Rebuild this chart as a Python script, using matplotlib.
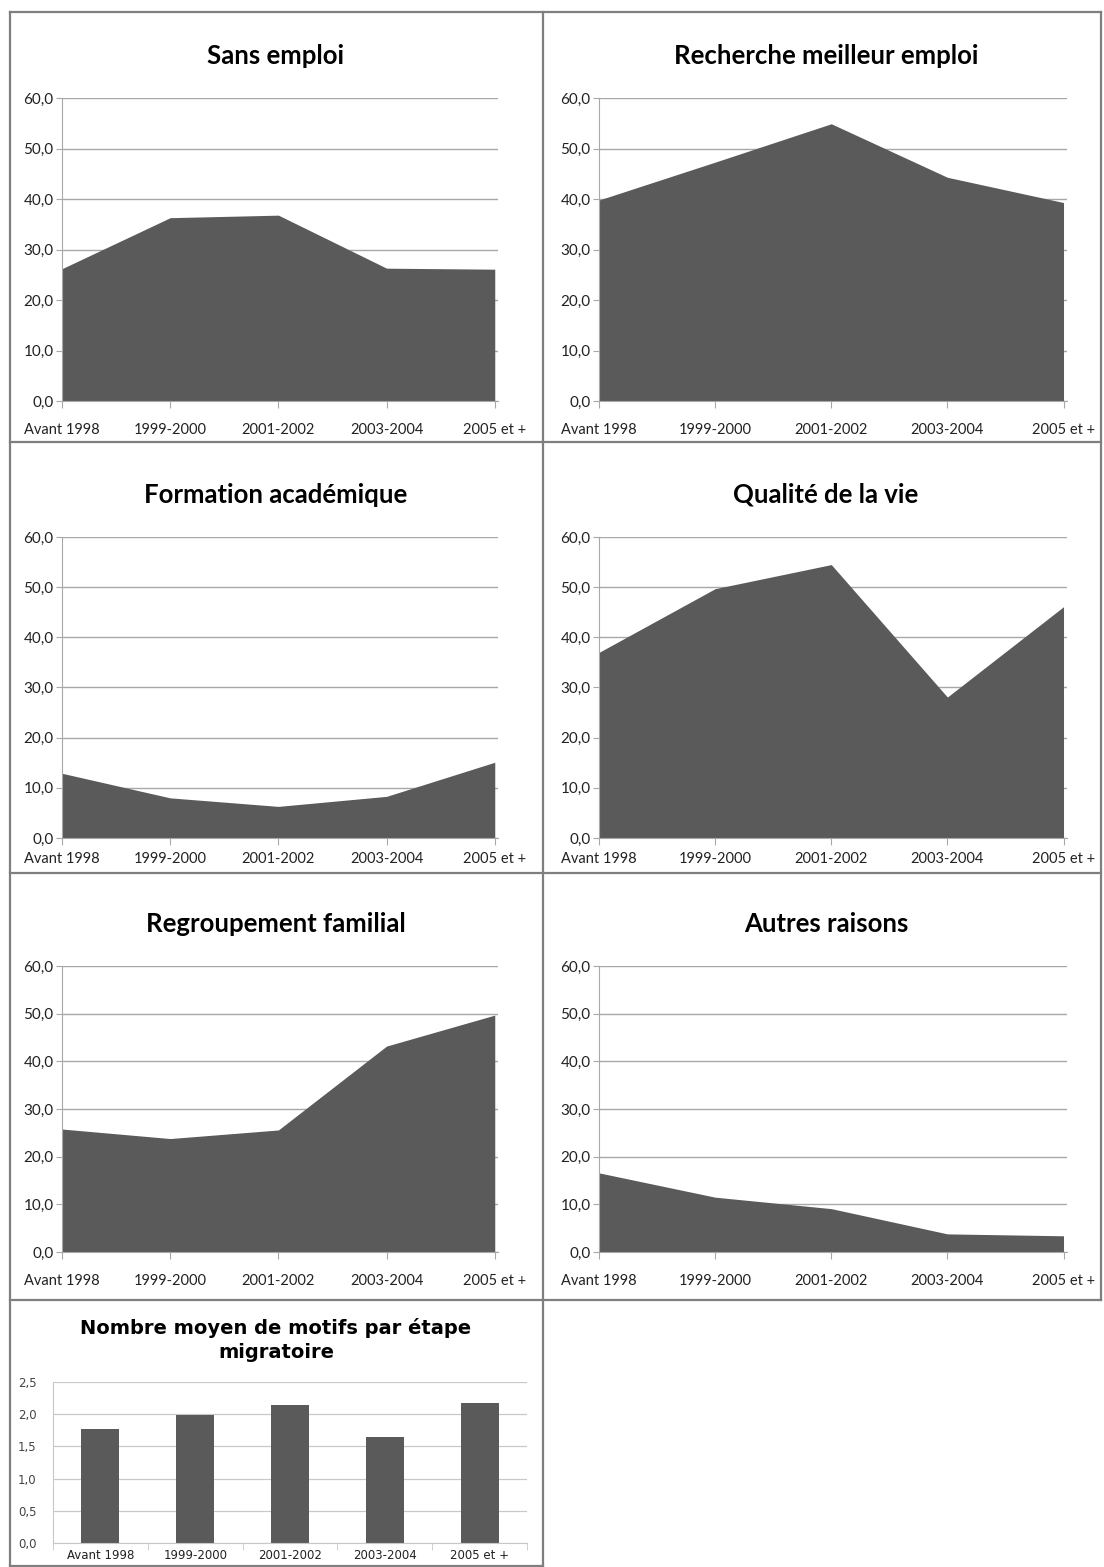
import matplotlib
matplotlib.use('Agg')
import matplotlib.pyplot as plt
from matplotlib.lines import Line2D

plt.rcParams['font.family'] = ['Lato', 'DejaVu Sans']

# ── data ──
periods = ['Avant 1998', '1999-2000', '2001-2002', '2003-2004', '2005 et +']

sans_emploi      = [26.2, 36.3, 36.8, 26.3, 26.1]
recherche_emploi = [39.8, 47.3, 54.9, 44.3, 39.3]
formation        = [12.9, 8.0, 6.3, 8.3, 15.1]
qualite_vie      = [37.0, 49.7, 54.5, 28.1, 46.1]
regroupement     = [25.8, 23.8, 25.6, 43.2, 49.7]
autres_raisons   = [16.6, 11.5, 9.1, 3.8, 3.4]

nb_motifs = [1.77, 1.98, 2.14, 1.65, 2.17]

area_titles = ['Sans emploi', 'Recherche meilleur emploi',
               'Formation académique', 'Qualité de la vie',
               'Regroupement familial', 'Autres raisons']
area_series = [sans_emploi, recherche_emploi, formation,
               qualite_vie, regroupement, autres_raisons]
area_ticks = [0, 10, 20, 30, 40, 50, 60]
bar_ticks = [0, 0.5, 1.0, 1.5, 2.0, 2.5]
bar_title = 'Nombre moyen de motifs par étape\nmigratoire'

# ── layout (pixels, origin top-left) ──
W, H = 1104, 1567
FILL = '#5a5a5a'
GRID = '#a8a8a8'
FRAME = '#7f7f7f'

row_top = [12, 442, 873, 1300]
row_bot = [442, 873, 1300, 1566]
col_x = [10, 543, 1101]
plot_x = [(62, 498), (599, 1067)]
plot_y = [(98, 401), (537, 838), (966, 1252)]   # (y at 60, y at 0)
label_pad = [11, 5, 11]
title_x = [276, 826]


def fx(px):
    return px / W


def fy(py):
    return 1 - py / H


def box(x0, y0, x1, y1):
    return [fx(x0), fy(y1), fx(x1) - fx(x0), fy(y0) - fy(y1)]


def comma(v):
    return f'{v:.1f}'.replace('.', ',')


fig = plt.figure(figsize=(W / 100, H / 100), dpi=100)
fig.patch.set_facecolor('white')


# panel frames
def hline(y, x0, x1):
    fig.add_artist(Line2D([fx(x0), fx(x1)], [fy(y), fy(y)],
                          color=FRAME, lw=1.6))


def vline(x, y0, y1):
    fig.add_artist(Line2D([fx(x), fx(x)], [fy(y0), fy(y1)],
                          color=FRAME, lw=1.6))


for y in row_top[:3]:
    hline(y, col_x[0], col_x[2])
hline(row_bot[2], col_x[0], col_x[2])
hline(row_bot[3], col_x[0], col_x[1])
vline(col_x[0], row_top[0], row_bot[3])
vline(col_x[1], row_top[0], row_bot[3])
vline(col_x[2], row_top[0], row_bot[2])

x = list(range(len(periods)))

# ── area panels ──
for i, (title, vals) in enumerate(zip(area_titles, area_series)):
    r, c = divmod(i, 2)
    x0, x1 = plot_x[c]
    y60, y0 = plot_y[r]
    ax = fig.add_axes(box(x0, y60, x1, y0))
    ax.fill_between(x, vals, 0, color=FILL, lw=0, zorder=2)
    ax.set_xlim(0, 4.03)
    ax.set_ylim(0, 60)
    ax.set_yticks(area_ticks)
    ax.set_yticklabels([comma(v) for v in area_ticks])
    ax.set_xticks(x)
    ax.set_xticklabels(periods)
    ax.grid(axis='y', color=GRID, lw=1.0, zorder=1)
    for s in ['top', 'right']:
        ax.spines[s].set_visible(False)
    ax.spines['left'].set_color(GRID)
    ax.spines['bottom'].set_color(GRID)
    ax.tick_params(axis='y', length=4, color=GRID, labelsize=11,
                   labelcolor='#222222', pad=2)
    ax.tick_params(axis='x', length=5, color=GRID, labelsize=10.5,
                   labelcolor='#222222', pad=label_pad[r])
    fig.text(fx(title_x[c]), fy(y60 - 42), title, ha='center', va='center',
             fontsize=18.5, fontweight='bold', color='black')

# ── bar panel ──
ax = fig.add_axes(box(53, 1382, 527, 1543))
ax.bar(x, nb_motifs, width=0.4, color=FILL, zorder=2)
ax.set_xlim(-0.5, 4.5)
ax.set_ylim(0, 2.5)
ax.set_yticks(bar_ticks)
ax.set_yticklabels([comma(v) for v in bar_ticks])
ax.set_xticks(x)
ax.set_xticklabels(periods)
ax.set_xticks([k + 0.5 for k in range(-1, 5)], minor=True)
ax.grid(axis='y', color='#c8c8c8', lw=0.9, zorder=1)
for s in ['top', 'right']:
    ax.spines[s].set_visible(False)
ax.spines['left'].set_color('#c8c8c8')
ax.spines['bottom'].set_color('#c8c8c8')
ax.tick_params(axis='x', which='major', length=0, labelsize=8.5,
               labelcolor='#222222', pad=4)
ax.tick_params(axis='x', which='minor', length=5, color='#c8c8c8')
ax.tick_params(axis='y', length=0, labelsize=8.5, labelcolor='#444444', pad=12)
for lab in ax.get_xticklabels() + ax.get_yticklabels():
    lab.set_family(['DejaVu Sans'])
fig.text(fx(276), fy(1340), bar_title, ha='center', va='center',
         fontsize=14, fontweight='bold', color='black',
         family=['DejaVu Sans'], linespacing=1.35)

fig.savefig('out.png', dpi=100, facecolor='white')
